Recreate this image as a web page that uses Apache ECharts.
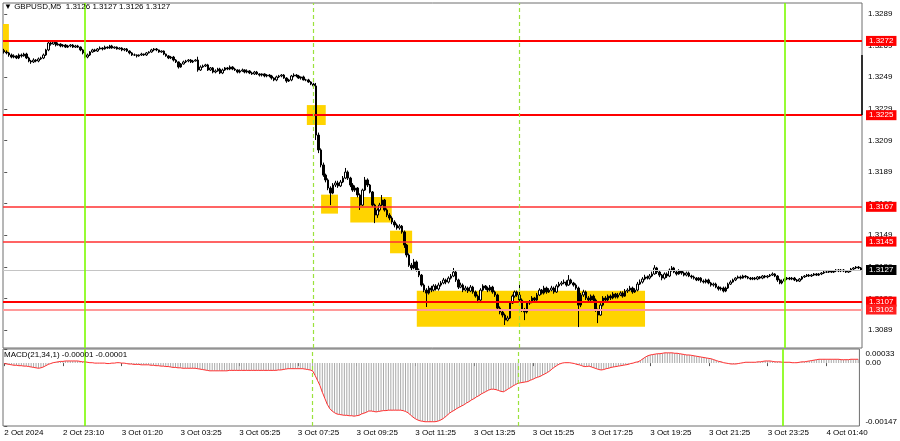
<!DOCTYPE html>
<html><head><meta charset="utf-8">
<script src="https://cdn.jsdelivr.net/npm/echarts@6/dist/echarts.min.js"></script>
<style>html,body{margin:0;padding:0;background:#fff}#c{width:900px;height:441px}</style>
</head><body><div id="c"></div>
<script>
// Prices are stored as pips above 1.3000 (e.g. 127.0 -> 1.3127)
const BASE = 1.3;
const firstOpen = 266.0;
const close = [
265.0,264.4,263.1,261.8,262.5,261.2,263.1,262.5,263.7,261.2,
259.3,258.7,259.9,259.3,260.6,261.2,263.1,266.3,270.7,270.0,
271.3,269.4,270.0,268.8,269.4,268.1,268.8,269.4,268.1,268.8,
268.1,266.3,264.4,261.8,263.1,265.0,266.3,265.6,266.9,267.5,
266.9,268.1,267.5,268.8,267.5,268.1,266.9,267.5,266.3,266.9,
265.6,264.4,263.1,263.1,262.5,263.1,263.7,263.1,264.4,265.0,
266.3,266.9,266.3,265.0,265.6,263.7,262.5,261.2,261.8,259.9,
258.7,255.5,257.4,258.7,259.3,259.9,258.7,259.3,259.9,253.6,
255.5,256.1,256.8,253.6,254.9,252.3,253.0,254.2,251.7,253.6,
254.9,254.2,255.5,254.2,253.6,252.3,253.0,253.6,252.3,253.0,
251.7,251.1,252.3,251.1,250.4,251.1,249.8,250.4,249.8,248.5,
247.3,249.2,249.8,250.4,248.5,246.6,247.3,249.8,250.4,249.8,
248.5,249.2,247.3,247.3,246.0,244.7,243.5,212.4,203.0,193.5,
187.1,184.0,178.9,175.7,180.8,182.1,180.2,182.7,185.2,189.0,
185.2,180.8,177.6,178.9,174.5,168.1,177.6,184.0,180.8,176.4,
168.1,161.8,165.0,168.1,171.3,165.0,161.8,159.9,157.4,155.5,
153.6,154.8,151.1,142.8,136.5,130.1,128.3,132.1,127.0,123.8,
117.5,114.3,112.4,115.6,114.3,116.9,115.0,117.5,118.8,120.7,
119.4,121.9,123.2,125.7,120.7,116.2,117.5,114.3,115.6,113.7,
116.2,113.1,110.5,108.0,114.3,116.9,115.6,114.3,116.2,113.1,
111.2,102.9,100.4,98.5,95.3,96.6,106.1,110.5,113.1,111.2,
108.0,101.7,100.4,106.1,106.8,109.3,108.0,111.2,114.3,112.4,
115.6,113.1,114.3,115.6,113.1,116.9,118.1,118.8,119.4,117.5,
120.7,118.8,117.5,115.6,104.8,111.2,113.1,109.3,108.0,110.5,
108.0,101.7,98.5,104.8,109.3,108.0,110.5,109.3,111.8,109.9,
111.2,112.4,110.5,113.7,114.3,115.6,113.1,114.3,118.1,119.4,
121.3,122.6,121.9,123.2,124.5,128.3,125.7,123.8,121.9,124.5,
123.2,127.0,128.3,125.7,124.5,126.4,125.1,123.8,125.1,123.2,
122.6,121.9,120.7,121.9,120.0,119.4,120.7,118.8,117.5,118.1,
116.2,115.0,115.6,113.7,115.6,118.1,119.4,120.7,121.9,122.6,
121.9,123.2,122.6,121.9,121.3,121.9,121.3,122.6,121.9,123.2,
122.6,123.2,123.8,124.5,123.2,120.7,118.8,120.0,121.3,121.9,
121.3,121.9,120.7,120.0,121.3,122.6,123.2,123.8,123.2,123.8,
124.5,123.8,124.5,125.1,125.7,125.7,126.4,125.7,126.4,127.0,
126.4,127.0,126.4,125.7,126.4,127.6,128.3,128.9,128.3,127.0
];
const high = [
267,266,265,264,263.5,263,264,264,264.5,264.5,
262,260,261,260.5,261.5,262,264,267,271.5,271.5,
272.5,272,271,270.5,270,270,269.5,270,270,269.5,
269.5,268.5,267,265,264,265.5,267,267,267.5,268.5,
268,269,268.5,269.5,269.5,268.5,268.5,268,268,267.5,
267.5,266,265,264,263.5,263.5,264.5,264,265,265.5,
267,267.5,267.5,266.5,266,266,264,263,262.5,262.5,
260.5,259,258,259.5,260,260.5,260.5,260,260.5,262,
256.5,257,257.5,257.5,255.5,255.5,254,255,255,254.5,
255.5,255.5,256.5,256,255,254,254,254.5,254,254,
253.5,252.5,253,253,251.5,251.5,251.5,251,251,250.5,
249,250,250.5,251,251,249,248,250.5,251.5,251,
250.5,249.5,250,248,248,246.5,245.5,245.4,214,204,
195,188,185,180,182,183.5,183.5,184,186.5,191.6,
190,186,182,180.5,179.5,175.5,178.5,185.9,185,181.5,
177,169,166,169.5,174.5,172,166,163,161,158.5,
156.5,156,155.5,152,143.5,137.5,131.5,134,133,128,
124.5,118.5,115.5,117,117,118,118,119,120,122,
121.5,123,124.5,128.3,126.5,121.5,119,118.5,117,116.5,
117.5,117,114,111.5,115.5,118,117.5,116.5,117.5,117,
114,112,104,101.5,99.5,98,107,111.5,114,114,
117.5,109,103,107,108,110.5,110,112.5,115.5,115,
117,116.5,115.5,117,116.5,118,119.5,120,121,120.5,
123.8,121.5,119.5,118.5,116.5,112.5,114.5,114,110.5,111.5,
111.5,109,102.5,106,110.5,110.5,111.5,111.5,113,112.5,
112.5,113.5,113.5,115,115.5,117,116.5,115.5,119.5,121,
122.5,124,123.5,124.5,126,130.1,129,126.5,124.5,125.5,
125.5,128,129.5,129,126.5,127.5,127,126,126,126,
124,123.5,122.5,122.5,122.5,121,121.5,121.5,119.5,119,
119,117,116.5,116.5,116.5,119,120.5,121.5,122.5,123.5,
123.5,124,123.8,123.2,122.6,122.6,122.6,123.2,123.2,123.8,
123.8,123.8,124.5,125.5,125,123.8,121.5,121,122,122.6,
122.6,122.6,122.6,121.3,121.9,123.2,123.8,124.5,124.5,124.5,
125.1,125.1,125.1,125.7,126.4,126.4,127,127,127,127.6,
127.6,127.6,127.6,127,127,128.3,128.9,129.5,129.5,128.9
];
const low = [
264,263.5,262,261,261,260.5,260.5,261.5,262,260.5,
258.5,257.5,258,258.5,258.5,260,260.5,262.5,265.5,269,
269.5,268.5,269,268,268,267.5,267.5,268,267.5,267.5,
267.5,265.5,263.5,261,261,262.5,264.5,265,265,266.5,
266,266.5,267,267,267,267,266.5,266.5,265.5,265.5,
265,263.5,262.5,262.5,261.5,262,262.5,262.5,262.5,264,
264.5,265.5,265.5,264.5,264.5,263,262,260.5,260.5,259,
258,254.5,255,257,258,258.5,258,258,259,252.5,
253,255,255.5,253,253,251.5,251.5,252.5,251,251,
253,253.5,253.5,253.5,253,251.5,251.5,252.5,251.5,251.5,
251,250.5,250.5,250.5,249.5,249.5,249,249,249,247.5,
246.5,246.5,248.5,249,248,245.5,246,246.5,249,249,
248,247.5,247,246.5,245.5,244,242.5,209.3,201,192,
186,182.5,177.5,168.1,175,179.5,179,179.5,182,184.5,
184,179.5,176.5,176.5,173,165,167.5,177,179.5,175.5,
167,156.7,160,164,167.5,164,160.5,158.5,156,154,
152.5,152.5,150,141,135,129,127,127.5,126,122.5,
116.5,113,103.6,111.5,113,113.5,114,114,116.5,118,
118,118.5,121,122.5,119.5,115,115.5,113,113.5,112.5,
113,112,109.5,106.1,107.5,113.5,114.5,113,113.5,112,
110,102,99,97,92.2,94.5,96,105.5,109.5,110,
107,100.5,95.3,99.5,105,106,107,107.5,110.5,111.5,
111.5,112,112.5,113.5,112,112.5,116,117,118,116.5,
117,118,116.5,114.5,90.9,103.5,110,108,107,107,
107,100.5,93.4,98,104,107,107,108,108.5,109,
109,110.5,109.5,110,112.5,113.5,112,112.5,113.5,117.5,
118.5,120.5,121,121,122.5,124,124.5,122.5,120.5,121,
122,122.5,126,125,123.5,124,124,123,123,122.5,
121.5,121,120,120,119,118.5,118.5,118,116.5,116.5,
115.5,114,114,112.8,113,115,117.5,119,120,121.5,
121,121.5,121.8,121.2,120.6,120.6,120.6,120.6,121.2,121.2,
121.8,121.8,122.6,123.2,122.5,119.5,118,118,119.5,120.6,
120.6,120.6,120,119.4,119.4,120.6,122,122.6,122.6,122.6,
123.2,123.2,123.2,123.8,124.5,125.1,125.1,125.1,125.1,125.7,
125.7,125.7,125.7,125.1,125.1,125.7,127,127.6,127.6,126.4
];
// MACD(21,34,1) main values in units of 0.00001
const macd = [
-1,-2,-3,-4,-5,-5,-6,-6,-7,-7,
-8,-9,-10,-11,-12,-11,-9,-6,-3,-1,
1,2,3,4,4,5,5,5,5,5,
5,4,3,3,2,1,1,0,0,0,
0,0,-1,-1,0,0,1,1,0,0,
-1,-2,-2,-3,-3,-3,-4,-4,-4,-4,
-5,-5,-6,-6,-7,-7,-8,-8,-9,-10,
-10,-11,-11,-12,-12,-12,-12,-12,-12,-13,
-14,-15,-16,-17,-18,-18,-18,-18,-18,-18,
-18,-18,-17,-17,-17,-17,-17,-17,-17,-17,
-17,-17,-17,-17,-17,-17,-17,-17,-17,-17,
-17,-17,-16,-16,-15,-14,-13,-13,-13,-13,
-13,-13,-13,-14,-15,-16,-18,-28,-40,-52,
-68,-82,-96,-106,-112,-116,-119,-120,-121,-122,
-122,-123,-123,-124,-123,-122,-119,-117,-115,-112,
-112,-113,-114,-113,-112,-111,-111,-110,-110,-110,
-110,-110,-110,-111,-113,-116,-121,-126,-130,-133,
-135,-136,-137,-137,-137,-137,-137,-136,-134,-131,
-127,-122,-117,-113,-110,-106,-103,-100,-97,-93,
-90,-86,-83,-79,-76,-72,-69,-66,-63,-61,
-61,-62,-64,-66,-67,-64,-60,-57,-53,-50,
-47,-46,-45,-44,-43,-40,-38,-35,-33,-31,
-28,-25,-22,-18,-13,-9,-5,-2,0,1,
1,1,0,-1,-3,-4,-6,-8,-8,-7,
-9,-11,-13,-15,-16,-15,-13,-12,-10,-9,
-8,-7,-6,-5,-4,-3,-1,0,2,3,
6,10,14,17,19,20,21,22,22,23,
24,24,24,24,23,23,22,21,20,19,
19,18,17,16,15,14,13,12,11,10,
8,6,4,3,1,0,-1,-2,-2,-2,
-1,0,1,2,2,2,2,2,3,3,
4,5,5,5,4,3,3,3,2,2,
2,2,1,1,1,2,3,3,4,5,
6,7,8,9,9,9,9,9,9,9,
9,9,8,8,8,8,9,9,9,9
];
const priceTicks = [89,109,129,149,169,189,209,229,249,269,289];
const macdTickLabels = {'33':'0.00033','0':'0.00','-147':'-0.00147'};
const timeTickIdx = [0,24,48,72,96,120,144,168,192,216,240,264,288,312,336];
const timeTickText = ['2 Oct 2024','2 Oct 23:10','3 Oct 01:20','3 Oct 03:25','3 Oct 05:25','3 Oct 07:25','3 Oct 09:25','3 Oct 11:25','3 Oct 13:25','3 Oct 15:25','3 Oct 17:25','3 Oct 19:25','3 Oct 21:25','3 Oct 23:25','4 Oct 01:40'];
const levelsMain = [272, 225, 107];
const levelsMinor = [167, 145];
const levelsPale = [102];
const lastPrice = 127;
const dayLines = [33, 318];
const newsLines = [126, 210];
// zones: [fromBar, topPips, toBar, bottomPips]
const zones = [[-0.9,282.7,1.9,265.0],[123.3,231.4,131.0,218.8],[129.1,174.7,136.0,162.7],[141.0,173.2,157.9,157.0],[157.2,151.9,166.2,137.6],[168.1,113.9,261.1,91.1]];
const spike = [349.5, 263.1, 225.1];
const header = 'GBPUSD,M5  1.3126 1.3127 1.3126 1.3127';
const macdHeader = 'MACD(21,34,1) -0.00001 -0.00001';

// ---- build ----
const N = close.length;
const cats = close.map((_, i) => String(i));
const ohlc = close.map((c, i) => [i === 0 ? firstOpen : close[i - 1], c, low[i], high[i]]);
const fmtP = v => (BASE + v / 10000).toFixed(4);
const tickMap = {}; timeTickIdx.forEach((ix, k) => tickMap[ix] = timeTickText[k]);
const FONT = 'Liberation Sans, Arial, sans-serif';
const lbl = (bg) => ({show: true, position: 'end', distance: 4, formatter: p => fmtP(p.value),
  backgroundColor: bg, color: '#fff', fontSize: 8, fontFamily: FONT, padding: [1, 3, 0, 3], lineHeight: 9});

function hLines(values, color, width, labelBg) {
  return {type: 'line', xAxisIndex: 2, yAxisIndex: 0, data: [], silent: true, z: 5,
    markLine: {silent: true, symbol: 'none', animation: false,
      lineStyle: {color: color, width: width, type: 'solid', opacity: 1},
      label: lbl(labelBg),
      emphasis: {disabled: true},
      data: values.map(v => ({yAxis: v}))}};
}
function vLines(values, xIdx, yIdx, color, type, width) {
  return {type: 'line', xAxisIndex: xIdx, yAxisIndex: yIdx, data: [], silent: true, z: 5,
    markLine: {silent: true, symbol: 'none', animation: false,
      lineStyle: {color: color, width: width, type: type, opacity: 1},
      label: {show: false}, emphasis: {disabled: true},
      data: values.map(v => ({xAxis: v}))}};
}

const chart = echarts.init(document.getElementById('c'), null, {renderer: 'canvas'});
chart.setOption({
  animation: false,
  backgroundColor: '#ffffff',
  title: [
    {text: '\u25BC ' + header, left: 4, top: 3, padding: 0,
     textStyle: {fontSize: 8, fontWeight: 'normal', color: '#000', fontFamily: FONT}},
    {text: macdHeader, left: 4, top: 351, padding: 0,
     textStyle: {fontSize: 8, fontWeight: 'normal', color: '#000', fontFamily: FONT}}
  ],
  grid: [
    {left: 3, top: 3, width: 859, height: 345, show: true, borderColor: '#6e6e6e', borderWidth: 1, backgroundColor: '#fff'},
    {left: 3, top: 349, width: 859, height: 77, show: true, borderColor: '#6e6e6e', borderWidth: 1, backgroundColor: '#fff'}
  ],
  xAxis: [
    {type: 'category', gridIndex: 0, data: cats, boundaryGap: true, show: false},
    {type: 'category', gridIndex: 1, data: cats, boundaryGap: true,
     axisLine: {show: false}, splitLine: {show: false},
     axisTick: {show: true, alignWithLabel: true, interval: i => tickMap[i] !== undefined, length: 3, lineStyle: {color: '#555'}},
     axisLabel: {interval: i => tickMap[i] !== undefined, formatter: (v, i) => tickMap[i] || '',
       align: 'left', fontSize: 8, fontFamily: FONT, color: '#000', margin: 3}},
    {type: 'value', gridIndex: 0, min: -0.5, max: N - 0.5, show: false, splitLine: {show: false}},
    {type: 'value', gridIndex: 1, min: -0.5, max: N - 0.5, show: false, splitLine: {show: false}}
  ],
  yAxis: [
    {type: 'value', gridIndex: 0, position: 'right', min: 77.65, max: 296.0,
     axisLine: {show: false}, splitLine: {show: false},
     axisTick: {show: true, customValues: priceTicks, length: 3, lineStyle: {color: '#555'}},
     axisLabel: {customValues: priceTicks, formatter: v => fmtP(v), fontSize: 8, fontFamily: FONT, color: '#000', margin: 6}},
    {type: 'value', gridIndex: 1, position: 'right', min: -147, max: 33, interval: 147,
     axisLine: {show: false}, splitLine: {show: false},
     axisTick: {show: true, length: 3, lineStyle: {color: '#555'}},
     axisLabel: {fontSize: 8, fontFamily: FONT, color: '#000', margin: 6,
       formatter: v => {
         const t = macdTickLabels[String(Math.round(v))] || '';
         if (v > 0) return '{t|' + t + '}';
         if (v < 0) return '{b|' + t + '}';
         return t;
       },
       rich: {t: {fontSize: 8, fontFamily: FONT, color: '#000', padding: [10, 0, 0, 0]},
              b: {fontSize: 8, fontFamily: FONT, color: '#000', padding: [0, 0, 9, 0]}}}}
  ],
  series: [
    {type: 'line', xAxisIndex: 2, yAxisIndex: 0, data: [], silent: true, z: 1,
     markArea: {silent: true, itemStyle: {color: '#ffd400', opacity: 1}, emphasis: {disabled: true},
       data: zones.map(z => [{coord: [z[0], z[1]]}, {coord: [z[2], z[3]]}])}},
    {type: 'candlestick', xAxisIndex: 0, yAxisIndex: 0, data: ohlc, barWidth: 2, z: 3,
     itemStyle: {color: '#ffffff', color0: '#000000', borderColor: '#000000', borderColor0: '#000000', borderWidth: 1}},
    hLines([lastPrice], '#c4c4c4', 1, '#000000'),
    hLines(levelsMain, '#ff0000', 2, '#ff0000'),
    hLines(levelsMinor, '#ff3030', 1.6, '#ff0000'),
    hLines(levelsPale, '#ff9a9a', 2, '#ff2020'),
    vLines(dayLines, 2, 0, '#7cfc00', 'solid', 1.6),
    vLines(newsLines, 2, 0, '#9be23c', [4, 3], 1.2),
    {type: 'line', xAxisIndex: 2, yAxisIndex: 0, data: [], silent: true, z: 5,
     markLine: {silent: true, symbol: 'none', animation: false, label: {show: false},
       lineStyle: {color: '#000', width: 1.5, type: 'solid'},
       data: [[{coord: [spike[0], spike[1]]}, {coord: [spike[0], spike[2]]}]]}},
    {type: 'bar', xAxisIndex: 1, yAxisIndex: 1, data: macd, barWidth: 1, silent: true,
     itemStyle: {color: '#a9a9a9'}},
    {type: 'line', xAxisIndex: 1, yAxisIndex: 1, data: macd, symbol: 'none', silent: true,
     lineStyle: {color: '#ff3030', width: 1}},
    vLines(dayLines, 3, 1, '#7cfc00', 'solid', 1.6),
    vLines(newsLines, 3, 1, '#9be23c', [4, 3], 1.2)
  ]
});
</script>
</body></html>
